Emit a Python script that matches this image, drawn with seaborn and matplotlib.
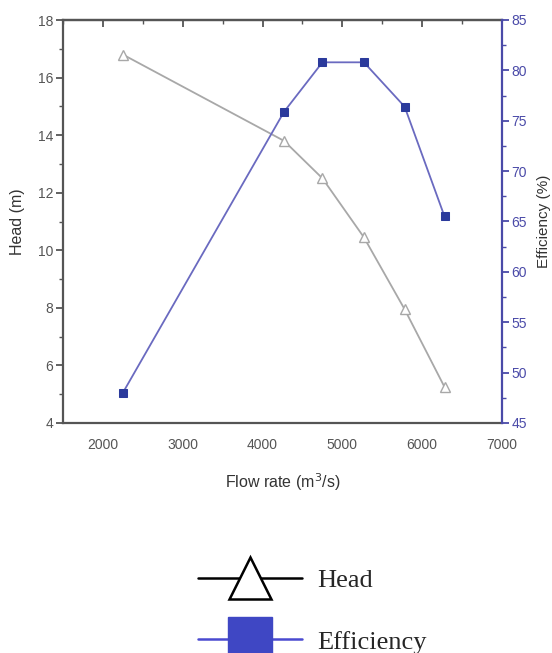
import matplotlib
matplotlib.use("Agg")
import matplotlib.pyplot as plt
from matplotlib.lines import Line2D
from matplotlib.ticker import MultipleLocator
import seaborn as sns
import pandas as pd

flow_rate = [2250, 4270, 4750, 5270, 5780, 6280]
head = [16.8, 13.8, 12.5, 10.45, 7.95, 5.25]
efficiency = [48.0, 75.9, 80.8, 80.8, 76.4, 65.5]

df = pd.DataFrame({"flow": flow_rate, "head": head, "eff": efficiency})

sns.set_style("white")
plt.rcParams["font.family"] = ["Liberation Sans", "DejaVu Sans"]

fig = plt.figure(figsize=(5.52, 6.53), dpi=100)
ax = fig.add_axes([63/552, 1 - 423/653, (502-63)/552, (423-20)/653])

head_c = "#a8a8a8"
eff_line = "#6a6ac0"
eff_mark = "#2b3a9c"
axis_c = "#555555"
right_c = "#4a4aa8"

sns.lineplot(data=df, x="flow", y="head", ax=ax, color=head_c, lw=1.3,
             marker="^", markersize=7, markerfacecolor="white",
             markeredgecolor=head_c, markeredgewidth=1.0)
ax2 = ax.twinx()
sns.lineplot(data=df, x="flow", y="eff", ax=ax2, color=eff_line, lw=1.3,
             marker="s", markersize=5.5, markerfacecolor=eff_mark,
             markeredgecolor=eff_mark)

ax.set_xlim(1500, 7000)
ax.set_ylim(4, 18)
ax2.set_ylim(45, 85)
ax.xaxis.set_major_locator(MultipleLocator(1000))
ax.xaxis.set_minor_locator(MultipleLocator(500))
ax.yaxis.set_major_locator(MultipleLocator(2))
ax.yaxis.set_minor_locator(MultipleLocator(1))
ax2.yaxis.set_major_locator(MultipleLocator(5))
ax2.yaxis.set_minor_locator(MultipleLocator(2.5))

for s in ["left", "bottom", "top"]:
    ax.spines[s].set_color(axis_c)
    ax.spines[s].set_linewidth(1.6)
ax2.spines["right"].set_color(right_c)
ax2.spines["right"].set_linewidth(1.6)
for s in ["left", "bottom", "top"]:
    ax2.spines[s].set_visible(False)
ax.spines["right"].set_visible(False)

ax.tick_params(axis="both", which="major", direction="out", length=5, width=1.3,
               color=axis_c, labelcolor="#555555", labelsize=10, pad=2)
ax.tick_params(axis="both", which="minor", direction="out", length=3, width=1.0,
               color=axis_c)
ax.tick_params(axis="x", pad=6)
ax2.tick_params(axis="y", which="major", direction="out", length=5, width=1.3,
                color=right_c, labelcolor=right_c, labelsize=10, pad=2)
ax2.tick_params(axis="y", which="minor", direction="out", length=3, width=1.0,
                color=right_c)

top = ax.secondary_xaxis("top")
top.xaxis.set_major_locator(MultipleLocator(1000))
top.xaxis.set_minor_locator(MultipleLocator(500))
top.tick_params(which="major", direction="in", length=5, width=1.3, color=axis_c, labeltop=False)
top.tick_params(which="minor", direction="in", length=3, width=1.0, color=axis_c)
top.spines["top"].set_color(axis_c)
top.spines["top"].set_linewidth(1.6)

ax.set_xlabel("Flow rate (m$^3$/s)", fontsize=11.5, color="#333333", labelpad=14)
ax.set_ylabel("Head (m)", fontsize=11.5, color="#333333", labelpad=9)
ax2.set_ylabel("Efficiency (%)", fontsize=11, color="#333333", labelpad=7)

handles = [
    Line2D([], [], color="black", lw=1.8, marker="^", markersize=30,
           markerfacecolor="white", markeredgecolor="black", markeredgewidth=1.8),
    Line2D([], [], color="#4a4ad0", lw=1.8, marker="s", markersize=32,
           markerfacecolor="#3f47c4", markeredgecolor="#3f47c4"),
]
fig.legend(handles, ["Head", "Efficiency"], loc="center left",
           bbox_to_anchor=(198/552, 1 - 611/653), frameon=False,
           prop={"family": ["Liberation Serif", "DejaVu Serif"], "size": 19},
           handlelength=3.95, handletextpad=0.55, labelspacing=1.45,
           borderpad=0, borderaxespad=0)

fig.savefig("out.png", dpi=100)
